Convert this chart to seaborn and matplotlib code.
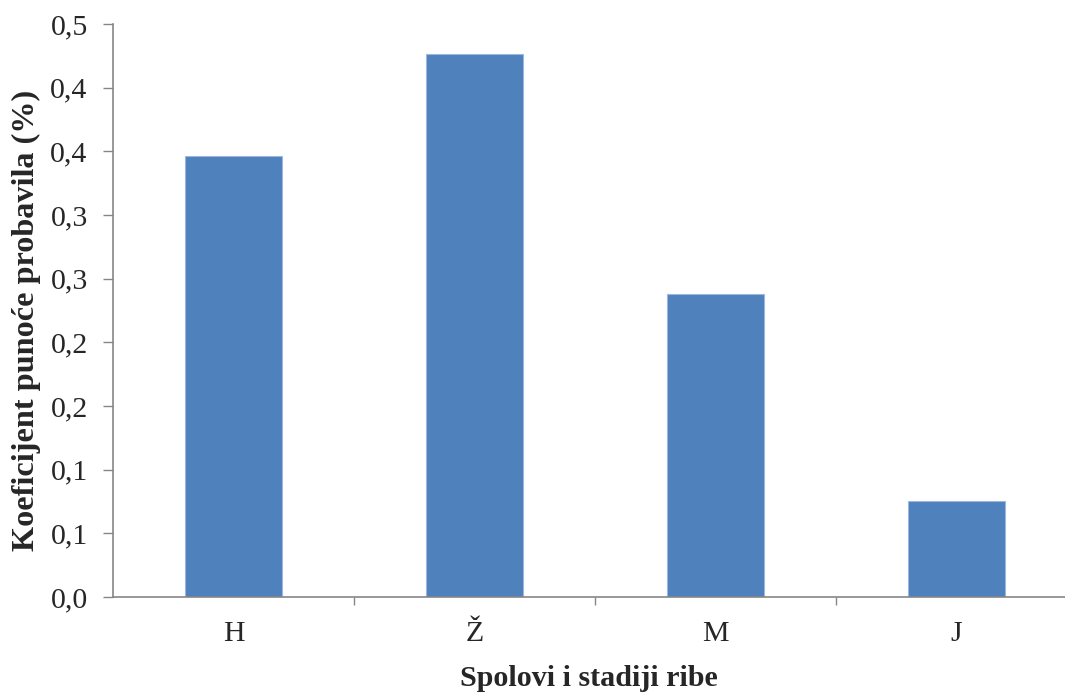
import numpy as np
import pandas as pd
import seaborn as sns
import matplotlib.pyplot as plt

# data
kategorije = ["H", "Ž", "M", "J"]
vrijednosti = [0.346, 0.4265, 0.238, 0.0755]
y_ticks = [0.0, 0.05, 0.10, 0.15, 0.20, 0.25, 0.30, 0.35, 0.40, 0.45]
y_tick_labels = ["0,0", "0,1", "0,1", "0,2", "0,2", "0,3", "0,3", "0,4", "0,4", "0,5"]

sns.set_style("white")
plt.rcParams['font.family'] = ['Liberation Serif', 'DejaVu Serif']

df = pd.DataFrame({"kat": kategorije, "val": vrijednosti})

fig = plt.figure(figsize=(10.65, 6.93), dpi=100)
ax = fig.add_axes([0.1061, 0.1385, 0.8939, 0.8269])

sns.barplot(data=df, x="kat", y="val", color="#4F81BD", saturation=1,
            width=0.4, edgecolor="#9DB7DE", linewidth=0.8, ax=ax)

ax.set_ylim(0, 0.45)
ax.set_xlim(-0.5, 3.45)
ax.set_yticks(y_ticks)
ax.set_yticklabels(y_tick_labels, fontsize=21.5)

# category labels without ticks, ticks at boundaries instead
ax.set_xticks(range(len(kategorije)))
ax.set_xticklabels(kategorije, fontsize=21.5)
ax.tick_params(axis='x', which='major', bottom=True, length=0, pad=17)
ax.set_xticks([0.5, 1.5, 2.5], minor=True)
ax.tick_params(axis='x', which='minor', bottom=True, length=6, width=1,
               color="#868686", direction='out')
ax.tick_params(axis='y', left=True, length=7.2, width=1, color="#868686",
               direction='out', pad=11)

for s in ["top", "right"]:
    ax.spines[s].set_visible(False)
for s in ["left", "bottom"]:
    ax.spines[s].set_color("#868686")
    ax.spines[s].set_linewidth(1.2)

ax.set_xlabel("Spolovi i stadiji ribe", fontsize=21.6, fontweight="bold", labelpad=13.5)
ax.set_ylabel("Koeficijent punoće probavila (%)", fontsize=23.2, fontweight="bold")
ax.yaxis.set_label_coords(-0.076, 0.482)

fig.savefig("out.png", dpi=100)
